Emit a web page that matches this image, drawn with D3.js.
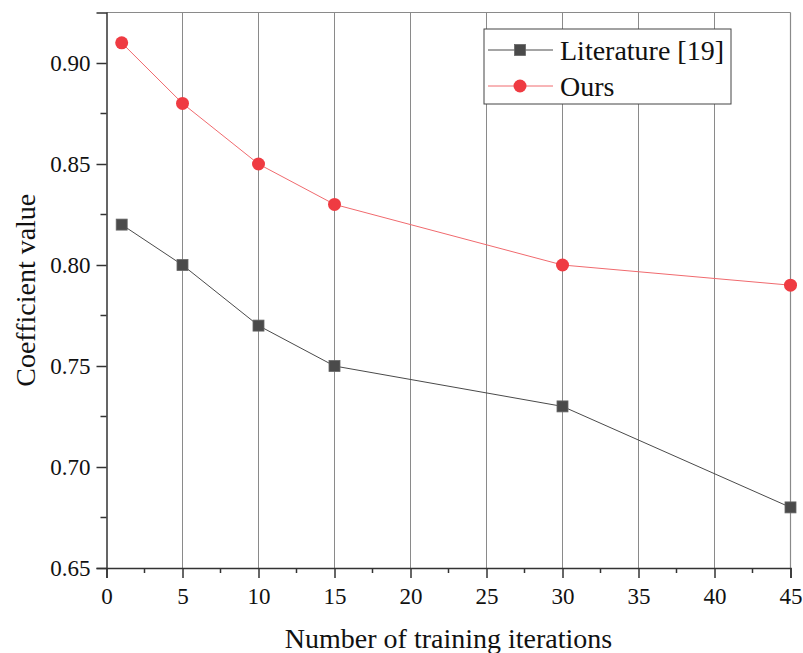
<!DOCTYPE html>
<html>
<head>
<meta charset="utf-8">
<script src="https://cdn.jsdelivr.net/npm/d3@7"></script>
<style>
body { margin: 0; background: #fff; }
svg, svg text { font-family: "Liberation Serif", "Times New Roman", serif; }
</style>
</head>
<body>
<div id="container"></div>
<script>
// data
var iterations = [1, 5, 10, 15, 30, 45];
var literature = [0.82, 0.80, 0.77, 0.75, 0.73, 0.68];
var ours = [0.91, 0.88, 0.85, 0.83, 0.80, 0.79];
var xTicks = [0, 5, 10, 15, 20, 25, 30, 35, 40, 45];
var yTicks = [0.65, 0.70, 0.75, 0.80, 0.85, 0.90];
var seriesNames = ["Literature [19]", "Ours"];

var W = 803, H = 653;
var margin = {top: 12.5, right: 12.5, bottom: 85, left: 106.5};
var width = W - margin.left - margin.right;
var height = H - margin.top - margin.bottom;

var red = "#ef3b42", grey = "#4a4a4a";
var serif = "'Liberation Serif', 'Times New Roman', serif";

var x = d3.scaleLinear().domain([0, 45]).range([0, width]);
var y = d3.scaleLinear().domain([0.65, 0.925]).range([height, 0]);

var svg = d3.select("#container").append("svg")
	.attr("width", W)
	.attr("height", H);

var g = svg.append("g")
	.attr("transform", "translate(" + margin.left + "," + margin.top + ")");

// vertical grid
g.append("g")
	.selectAll("line")
	.data(xTicks.slice(1, -1))
	.enter().append("line")
	.attr("x1", d => x(d)).attr("x2", d => x(d))
	.attr("y1", 0).attr("y2", height)
	.attr("stroke", "#8a8a8a")
	.attr("stroke-width", 1);

// frame top/right
g.append("line").attr("x1", 0).attr("x2", width).attr("y1", 0).attr("y2", 0)
	.attr("stroke", "#8a8a8a").attr("stroke-width", 1.2);
g.append("line").attr("x1", width).attr("x2", width).attr("y1", 0).attr("y2", height)
	.attr("stroke", "#8a8a8a").attr("stroke-width", 1.2);

// minor ticks
var xMinor = d3.range(2.5, 45, 5);
var yMinor = d3.range(0.675, 0.925, 0.05);

var xAxis = d3.axisBottom(x).tickValues(xTicks).tickSize(10).tickPadding(4).tickFormat(d3.format("d"));
var yAxis = d3.axisLeft(y).tickValues(yTicks).tickSize(10).tickPadding(6).tickFormat(d3.format(".2f"));

var gx = g.append("g")
	.attr("transform", "translate(0," + height + ")")
	.call(xAxis);
gx.append("g").selectAll("line").data(xMinor).enter().append("line")
	.attr("x1", d => x(d)).attr("x2", d => x(d)).attr("y1", 0).attr("y2", 5);

var gy = g.append("g").call(yAxis);
gy.append("g").selectAll("line").data(yMinor).enter().append("line")
	.attr("y1", d => y(d)).attr("y2", d => y(d)).attr("x1", 0).attr("x2", -6);

[gx, gy].forEach(function(a) {
	a.attr("font-family", serif).attr("font-size", 23);
	a.select(".domain").attr("stroke", "#333").attr("stroke-width", 1.5);
	a.selectAll("line").attr("stroke", "#333").attr("stroke-width", 1.5);
	a.selectAll("text").attr("fill", "#111");
});
gx.selectAll(".tick text").attr("dy", "0.95em");

// axis titles
svg.append("text")
	.attr("x", margin.left + width / 2)
	.attr("y", 648)
	.attr("text-anchor", "middle")
	.attr("fill", "#111")
	.attr("font-family", serif)
	.attr("font-size", 28)
	.text("Number of training iterations");

svg.append("text")
	.attr("transform", "translate(35," + (margin.top + height / 2) + ") rotate(-90)")
	.attr("text-anchor", "middle")
	.attr("fill", "#111")
	.attr("font-family", serif)
	.attr("font-size", 28)
	.text("Coefficient value");

var line = d3.line()
	.x((d, i) => x(iterations[i]))
	.y(d => y(d));

// series
g.append("path")
	.attr("d", line(literature))
	.attr("fill", "none")
	.attr("stroke", grey)
	.attr("stroke-width", 1);

g.append("path")
	.attr("d", line(ours))
	.attr("fill", "none")
	.attr("stroke", "#f06a6e")
	.attr("stroke-width", 1);

g.selectAll(".sq")
	.data(literature)
	.enter().append("rect")
	.attr("class", "sq")
	.attr("x", (d, i) => x(iterations[i]) - 5.5)
	.attr("y", d => y(d) - 5.5)
	.attr("width", 11)
	.attr("height", 11)
	.attr("fill", grey)
	.attr("stroke", "#666")
	.attr("stroke-width", 0.8);

g.selectAll(".dot")
	.data(ours)
	.enter().append("circle")
	.attr("class", "dot")
	.attr("cx", (d, i) => x(iterations[i]))
	.attr("cy", d => y(d))
	.attr("r", 6.5)
	.attr("fill", red);

// legend
var lg = svg.append("g").attr("transform", "translate(484,29)");
lg.append("rect")
	.attr("width", 247)
	.attr("height", 75)
	.attr("fill", "#fff")
	.attr("stroke", "#444")
	.attr("stroke-width", 1);

seriesNames.forEach(function(name, i) {
	var cy = 21 + i * 36;
	var col = i == 0 ? grey : "#f06a6e";
	lg.append("line")
		.attr("x1", 4).attr("x2", 69)
		.attr("y1", cy).attr("y2", cy)
		.attr("stroke", col).attr("stroke-width", 1);
	if (i == 0)
		lg.append("rect").attr("x", 30.5).attr("y", cy - 5.5).attr("width", 11).attr("height", 11)
			.attr("fill", grey).attr("stroke", "#666").attr("stroke-width", 0.8);
	else
		lg.append("circle").attr("cx", 36).attr("cy", cy).attr("r", 6.5).attr("fill", red);
	lg.append("text")
		.attr("x", 76)
		.attr("y", cy + 10)
		.attr("fill", "#111")
		.attr("font-family", serif)
		.attr("font-size", 28)
		.text(name);
});
</script>
</body>
</html>
